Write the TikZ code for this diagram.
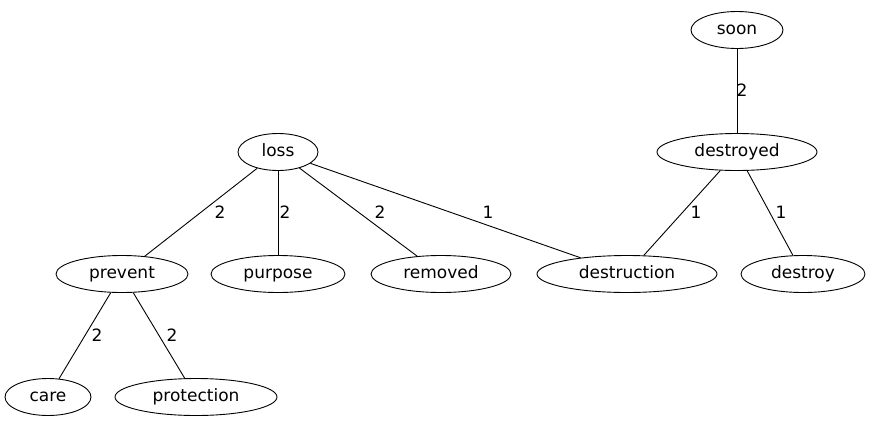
\documentclass[tikz,border=0pt]{standalone}
\usepackage{fontspec}
\setmainfont{DejaVu Sans}
\usetikzlibrary{shapes.geometric}
\begin{document}
\begin{tikzpicture}[x=1pt,y=-1pt,
  nd/.style={ellipse,draw,line width=0.9pt,inner sep=0pt,text height=12.5pt,text depth=3.5pt,minimum height=37pt,font=\fontsize{17}{20}\selectfont},
  ed/.style={line width=0.9pt},
  lb/.style={font=\fontsize{17}{20}\selectfont,inner sep=0pt,text height=12.5pt,text depth=0pt}]
\useasboundingbox (0,0) rectangle (873,429);
\node[nd,minimum width=92pt] (soon) at (737,30) {soon};
\node[nd,minimum width=160pt] (destroyed) at (737,152) {destroyed};
\node[nd,minimum width=80pt] (loss) at (278,152) {loss};
\node[nd,minimum width=132pt] (prevent) at (122,274) {prevent};
\node[nd,minimum width=134pt] (purpose) at (278,274) {purpose};
\node[nd,minimum width=140pt] (removed) at (441,274) {removed};
\node[nd,minimum width=180pt] (destruction) at (627,274) {destruction};
\node[nd,minimum width=124pt] (destroy) at (803,274) {destroy};
\node[nd,minimum width=86pt] (care) at (48,397) {care};
\node[nd,minimum width=162pt] (protection) at (196,397) {protection};
\draw[ed] (soon) -- (destroyed);
\draw[ed] (loss) -- (prevent);
\draw[ed] (loss) -- (purpose);
\draw[ed] (loss) -- (removed);
\draw[ed] (loss) -- (destruction);
\draw[ed] (destroyed) -- (destruction);
\draw[ed] (destroyed) -- (destroy);
\draw[ed] (prevent) -- (care);
\draw[ed] (prevent) -- (protection);
\node[lb] (l1) at (742,90) {2};
\node[lb] (l2) at (220,212) {2};
\node[lb] (l3) at (285,212) {2};
\node[lb] (l4) at (380,212) {2};
\node[lb] (l5) at (488,212) {1};
\node[lb] (l6) at (696,212) {1};
\node[lb] (l7) at (781,212) {1};
\node[lb] (l8) at (97,335) {2};
\node[lb] (l9) at (172,335) {2};
\end{tikzpicture}
\end{document}
